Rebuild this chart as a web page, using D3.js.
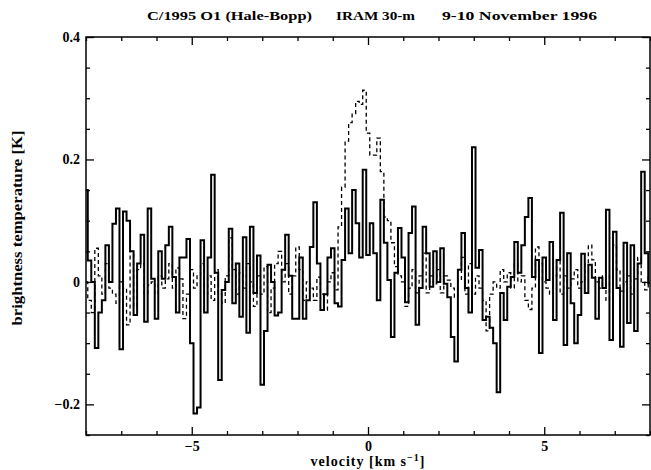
<!DOCTYPE html>
<html>
<head>
<meta charset="utf-8">
<script src="https://d3js.org/d3.v7.min.js"></script>
<style>
  body { margin: 0; background: #fff; }
  text { font-family: "Liberation Serif", serif; font-weight: bold; fill: #000; }
</style>
</head>
<body>
<svg id="chart" width="651" height="470"></svg>
<script>
  // spectrum channels: first velocity and channel width (km/s)
  const v0 = -8
  const dv = 0.1

  // solid spectrum (K), one value per channel
  const solid = [
    0.15, 0.035, 0.0, -0.108, -0.05, -0.03, 0.06, 0.0, 0.095, 0.12,
    -0.11, 0.115, 0.1, 0.05, -0.054, 0.03, 0.077, -0.065, 0.12, 0.005,
    -0.06, 0.05, 0.005, 0.06, 0.09, 0.008, -0.05, 0.04, 0.04, 0.07,
    -0.1, -0.215, -0.205, 0.068, -0.05, 0.04, 0.175, 0.015, -0.16, -0.013,
    0.0, 0.087, -0.035, 0.03, -0.057, 0.073, -0.083, 0.09, -0.018, 0.043,
    -0.168, -0.08, 0.028, 0.0, -0.055, -0.05, 0.02, 0.077, 0.01, -0.06,
    -0.06, 0.04, -0.06, -0.03, 0.057, 0.13, 0.03, -0.046, -0.02, 0.04,
    0.055, -0.035, -0.04, 0.036, 0.12, 0.047, 0.15, 0.096, 0.04, 0.183,
    0.044, 0.096, 0.047, -0.03, 0.134, 0.064, 0.003, -0.09, 0.015, 0.088,
    0.04, -0.033, 0.08, 0.123, -0.07, -0.01, 0.09, 0.047, -0.008, 0.05,
    0.0, 0.055, -0.003, -0.025, -0.09, -0.13, 0.02, 0.08, -0.01, -0.05,
    0.22, 0.023, 0.052, -0.062, -0.057, -0.075, -0.1, -0.18, -0.018, -0.062,
    -0.008, 0.008, 0.065, 0.015, 0.06, 0.106, 0.137, 0.008, 0.036, -0.116,
    0.04, 0.003, 0.065, -0.062, 0.036, 0.113, -0.103, 0.047, -0.035, -0.1,
    -0.054, 0.046, -0.018, 0.028, 0.007, -0.06, 0.007, -0.01, 0.118, -0.095,
    0.082, -0.01, -0.106, 0.064, -0.067, 0.06, -0.08, 0.03, 0.18, 0.047,
    -0.002
  ]

  // dashed spectrum (K)
  const dashed = [
    0.0, -0.03, -0.05, 0.055, 0.01, -0.02, 0.03, -0.01, -0.02, -0.035,
    0.0, -0.01, -0.07, 0.05, -0.04, 0.02, 0.03, -0.02, -0.005, 0.0,
    -0.02, 0.01, -0.01, 0.005, 0.03, -0.01, 0.023, 0.005, -0.06, -0.02,
    0.02, -0.01, 0.01, 0.03, -0.02, 0.01, -0.03, 0.02, -0.02, -0.035,
    0.01, 0.072, 0.02, -0.02, 0.015, -0.01, 0.03, 0.0, -0.04, 0.01,
    -0.02, 0.025, -0.05, -0.01, 0.03, 0.05, 0.0, 0.03, -0.02, 0.01,
    0.057, 0.02, -0.03, 0.0, -0.01, -0.03, 0.008, -0.02, -0.046, 0.0,
    0.015, -0.013, 0.09, 0.155, 0.23, 0.26, 0.275, 0.295, 0.29, 0.313,
    0.243, 0.207, 0.207, 0.235, 0.18, 0.106, 0.1, 0.064, 0.025, 0.01,
    0.0, -0.04, -0.01, 0.02, -0.018, 0.01, 0.047, -0.018, 0.01, -0.003,
    0.02, -0.018, 0.01, 0.003, -0.01, -0.025, 0.003, 0.04, -0.02, 0.03,
    -0.02, 0.01, -0.01, -0.03, -0.08, -0.02, 0.0, -0.01, 0.02, 0.0,
    0.015, -0.01, 0.03, 0.0, 0.01, -0.03, -0.045, -0.01, 0.057, 0.03,
    0.0, -0.01, -0.02, 0.01, 0.036, -0.02, 0.01, -0.01, 0.005, 0.02,
    -0.01, 0.0, 0.03, 0.06, 0.036, 0.0, -0.01, 0.01, -0.03, 0.01,
    0.06, 0.02, -0.015, 0.0, 0.01, -0.02, 0.005, 0.04, 0.0, -0.013,
    0.01
  ]

  const xMajor = [-5, 0, 5]
  const xMinor = [-8, -7, -6, -4, -3, -2, -1, 1, 2, 3, 4, 6, 7, 8]
  const yMajor = [-0.2, 0, 0.2, 0.4]
  const yMinor = [-0.25, -0.15, -0.1, -0.05, 0.05, 0.1, 0.15, 0.25, 0.3, 0.35]
  const titleParts = ['C/1995 O1 (Hale-Bopp)', 'IRAM 30-m', '9-10 November 1996']

  const svg = d3.select('#chart')

  const xScale = d3.scaleLinear()
                   .domain([-8, 8])
                   .range([86, 650])
  const yScale = d3.scaleLinear()
                   .domain([-0.25, 0.4])
                   .range([435, 37])

  // clip
  svg.append('clipPath').attr('id', 'plot')
     .append('rect')
     .attr('x', 86).attr('y', 37)
     .attr('width', 564).attr('height', 398)

  const lineGen = d3.line()
                    .x((d, i) => xScale(v0 + i * dv))
                    .y(d => yScale(d))
                    .curve(d3.curveStep)

  svg.append('path')
     .attr('d', lineGen(dashed))
     .attr('clip-path', 'url(#plot)')
     .attr('fill', 'none')
     .attr('stroke', '#000')
     .attr('stroke-width', 1.3)
     .attr('stroke-dasharray', '4,3')

  svg.append('path')
     .attr('d', lineGen(solid))
     .attr('clip-path', 'url(#plot)')
     .attr('fill', 'none')
     .attr('stroke', '#000')
     .attr('stroke-width', 2)

  // axes, ticks pointing inward
  const fmtY = d => d === 0 ? '0' : d3.format('.1f')(d)
  const fmtX = d => d3.format('d')(d)

  function addAxis(axis, tf) {
    const g = svg.append('g').attr('transform', tf).call(axis)
    g.select('.domain').remove()
    g.selectAll('line').attr('stroke', '#000').attr('stroke-width', 1.3)
    g.selectAll('text').attr('font-size', 14).attr('font-family', '"Liberation Serif", serif').attr('font-weight', 'bold')
    return g
  }

  addAxis(d3.axisBottom(xScale).tickValues(xMajor).tickSize(-8).tickPadding(6).tickFormat(fmtX), 'translate(0,435)')
  addAxis(d3.axisBottom(xScale).tickValues(xMinor).tickSize(-4).tickFormat(''), 'translate(0,435)')
  addAxis(d3.axisTop(xScale).tickValues(xMajor).tickSize(-8).tickFormat(''), 'translate(0,37)')
  addAxis(d3.axisTop(xScale).tickValues(xMinor).tickSize(-4).tickFormat(''), 'translate(0,37)')
  addAxis(d3.axisLeft(yScale).tickValues(yMajor).tickSize(-8).tickPadding(6).tickFormat(fmtY), 'translate(86,0)')
  addAxis(d3.axisLeft(yScale).tickValues(yMinor).tickSize(-4).tickFormat(''), 'translate(86,0)')
  addAxis(d3.axisRight(yScale).tickValues(yMajor).tickSize(-8).tickFormat(''), 'translate(650,0)')
  addAxis(d3.axisRight(yScale).tickValues(yMinor).tickSize(-4).tickFormat(''), 'translate(650,0)')

  // frame
  svg.append('rect')
     .attr('x', 86).attr('y', 37)
     .attr('width', 564).attr('height', 398)
     .attr('fill', 'none')
     .attr('stroke', '#000')
     .attr('stroke-width', 1.5)

  // title
  const titleX = [147, 336, 442]
  const titleW = [165, 79, 155]
  svg.selectAll('.title')
     .data(titleParts)
     .join('text')
     .attr('class', 'title')
     .attr('x', (d, i) => titleX[i])
     .attr('y', 20)
     .attr('font-size', 13)
     .attr('textLength', (d, i) => titleW[i])
     .attr('lengthAdjust', 'spacingAndGlyphs')
     .text(d => d)

  // axis labels
  svg.append('text')
     .attr('transform', 'translate(22,228) rotate(-90)')
     .attr('text-anchor', 'middle')
     .attr('font-size', 14)
     .attr('textLength', 195)
     .attr('lengthAdjust', 'spacingAndGlyphs')
     .text('brightness temperature [K]')

  const xl = svg.append('text')
     .attr('x', 368)
     .attr('y', 466)
     .attr('text-anchor', 'middle')
     .attr('font-size', 14)
     .attr('letter-spacing', 1)
  xl.append('tspan').text('velocity [km s')
  xl.append('tspan').attr('dy', -5).attr('font-size', 10).text('−1')
  xl.append('tspan').attr('dy', 5).text(']')
</script>
</body>
</html>
